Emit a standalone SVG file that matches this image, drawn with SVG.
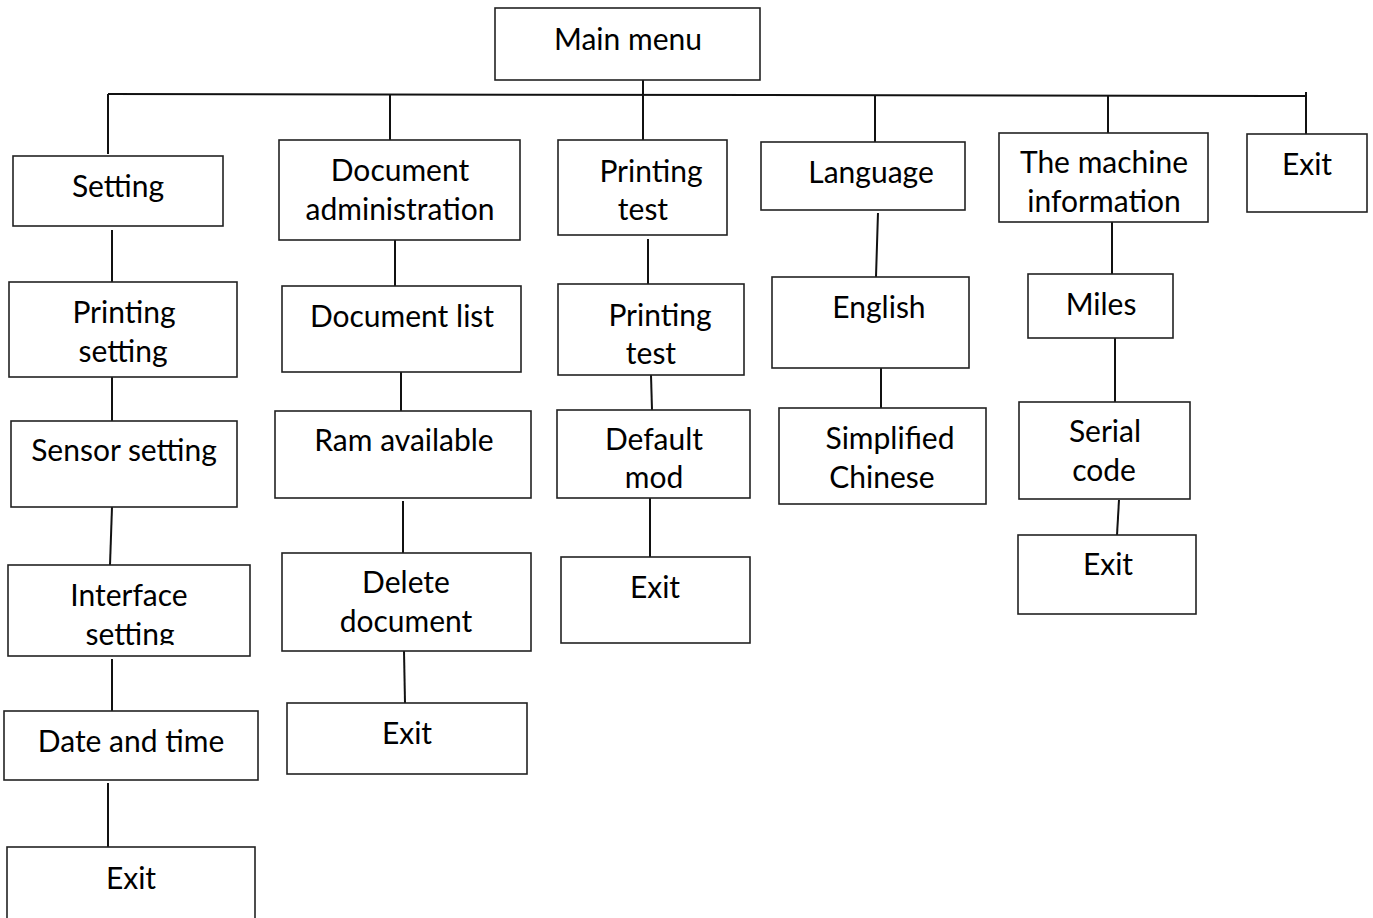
<svg xmlns="http://www.w3.org/2000/svg" width="1373" height="918" viewBox="0 0 1373 918">
<style>
.b{fill:#fff;stroke:#222;stroke-width:1.6}
.t{font-family:Lato,"Open Sans",sans-serif;font-size:30px;fill:#000;text-anchor:middle}
.c line{stroke:#111;stroke-width:2}
</style>
<defs><clipPath id="cl"><rect x="0" y="560" width="260" height="85"/></clipPath></defs>
<rect width="1373" height="918" fill="#fff"/>
<g class="c" id="connectors">
<line x1="108" y1="94" x2="1306" y2="96"/>
<line x1="643" y1="80" x2="643" y2="140"/>
<line x1="108" y1="94" x2="108" y2="154"/>
<line x1="390" y1="95" x2="390" y2="141"/>
<line x1="875" y1="95" x2="875" y2="142"/>
<line x1="1108" y1="95" x2="1108" y2="133"/>
<line x1="1306" y1="92" x2="1306" y2="134"/>
<line x1="112" y1="230" x2="112" y2="282"/>
<line x1="112" y1="377" x2="112" y2="421"/>
<line x1="112" y1="507" x2="110" y2="565"/>
<line x1="112" y1="659" x2="112" y2="711"/>
<line x1="108" y1="783" x2="108" y2="847"/>
<line x1="395" y1="240" x2="395" y2="286"/>
<line x1="401" y1="372" x2="401" y2="411"/>
<line x1="403" y1="501" x2="403" y2="554"/>
<line x1="404" y1="651" x2="405" y2="703"/>
<line x1="648" y1="239" x2="648" y2="284"/>
<line x1="651" y1="375" x2="652" y2="410"/>
<line x1="650" y1="498" x2="650" y2="557"/>
<line x1="878" y1="213" x2="876" y2="277"/>
<line x1="881" y1="368" x2="881" y2="408"/>
<line x1="1112" y1="222" x2="1112" y2="274"/>
<line x1="1115" y1="338" x2="1115" y2="402"/>
<line x1="1119" y1="500" x2="1117" y2="535"/>
</g>
<g id="main"><rect class="b" x="495" y="8" width="265" height="72"/><text class="t" x="628" y="50">Main menu</text></g>
<g id="setting"><rect class="b" x="13" y="156" width="210" height="70"/><text class="t" x="118" y="197">Setting</text></g>
<g id="printing-setting"><rect class="b" x="9" y="282" width="228" height="95"/><text class="t" x="124" y="323">Printing</text><text class="t" x="123" y="362">setting</text></g>
<g id="sensor-setting"><rect class="b" x="11" y="421" width="226" height="86"/><text class="t" x="124" y="461">Sensor setting</text></g>
<g id="interface-setting"><rect class="b" x="8" y="565" width="242" height="91"/><text class="t" x="129" y="606">Interface</text><text class="t" x="130" y="645" clip-path="url(#cl)">setting</text></g>
<g id="date-time"><rect class="b" x="4" y="711" width="254" height="69"/><text class="t" x="131" y="752">Date and time</text></g>
<g id="exit-setting"><rect class="b" x="7" y="847" width="248" height="80"/><text class="t" x="131" y="889">Exit</text></g>
<g id="doc-admin"><rect class="b" x="279" y="140" width="241" height="100"/><text class="t" x="400" y="181">Document</text><text class="t" x="400" y="220">administration</text></g>
<g id="doc-list"><rect class="b" x="282" y="286" width="239" height="86"/><text class="t" x="402" y="327">Document list</text></g>
<g id="ram"><rect class="b" x="275" y="411" width="256" height="87"/><text class="t" x="404" y="451">Ram available</text></g>
<g id="delete-doc"><rect class="b" x="282" y="553" width="249" height="98"/><text class="t" x="406" y="593">Delete</text><text class="t" x="406" y="632">document</text></g>
<g id="exit-doc"><rect class="b" x="287" y="703" width="240" height="71"/><text class="t" x="407" y="744">Exit</text></g>
<g id="printing-test"><rect class="b" x="558" y="140" width="169" height="95"/><text class="t" x="651" y="182">Printing</text><text class="t" x="643" y="220">test</text></g>
<g id="printing-test-2"><rect class="b" x="558" y="284" width="186" height="91"/><text class="t" x="660" y="326">Printing</text><text class="t" x="651" y="364">test</text></g>
<g id="default-mod"><rect class="b" x="557" y="410" width="193" height="88"/><text class="t" x="654" y="450">Default</text><text class="t" x="654" y="488">mod</text></g>
<g id="exit-pt"><rect class="b" x="561" y="557" width="189" height="86"/><text class="t" x="655" y="598">Exit</text></g>
<g id="language"><rect class="b" x="761" y="142" width="204" height="68"/><text class="t" x="871" y="183">Language</text></g>
<g id="english"><rect class="b" x="772" y="277" width="197" height="91"/><text class="t" x="879" y="318">English</text></g>
<g id="simplified-chinese"><rect class="b" x="779" y="408" width="207" height="96"/><text class="t" x="890" y="449">Simplified</text><text class="t" x="882" y="488">Chinese</text></g>
<g id="machine-info"><rect class="b" x="999" y="133" width="209" height="89"/><text class="t" x="1104" y="173">The machine</text><text class="t" x="1104" y="212">information</text></g>
<g id="miles"><rect class="b" x="1028" y="274" width="145" height="64"/><text class="t" x="1101" y="315">Miles</text></g>
<g id="serial-code"><rect class="b" x="1019" y="402" width="171" height="97"/><text class="t" x="1105" y="442">Serial</text><text class="t" x="1104" y="481">code</text></g>
<g id="exit-mi"><rect class="b" x="1018" y="535" width="178" height="79"/><text class="t" x="1108" y="575">Exit</text></g>
<g id="exit-main"><rect class="b" x="1247" y="134" width="120" height="78"/><text class="t" x="1307" y="175">Exit</text></g>
</svg>
